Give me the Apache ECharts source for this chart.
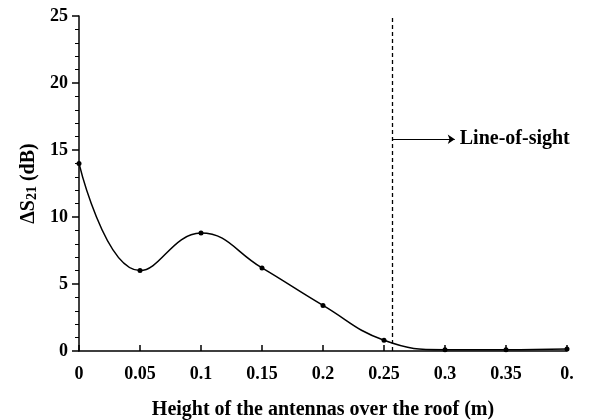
<!DOCTYPE html>
<html>
<head>
<meta charset="utf-8">
<script src="https://cdn.jsdelivr.net/npm/echarts@6/dist/echarts.min.js"></script>
<style>
html, body { margin: 0; padding: 0; background: #fff; }
#chart { width: 601px; height: 420px; }
</style>
</head>
<body>
<div id="chart"></div>
<script>
// measured heights (m) and insertion-loss change (dB)
var heights = [0, 0.05, 0.1, 0.15, 0.2, 0.25, 0.3, 0.35, 0.4];
var deltaS21 = [14.0, 6.0, 8.8, 6.2, 3.4, 0.8, 0.1, 0.1, 0.15];
var xTickLabels = ['0', '0.05', '0.1', '0.15', '0.2', '0.25', '0.3', '0.35', '0.'];
var losHeight = 0.257;
var losArrow = [[0.257, 15.8], [0.308, 15.8]];

var font = 'Liberation Serif';
var chart = echarts.init(document.getElementById('chart'));

var points = [];
for (var i = 0; i < heights.length; i++) points.push([heights[i], deltaS21[i]]);

chart.setOption({
	animation: false,
	grid: { left: 79, right: 34, top: 16, bottom: 69, outerBoundsMode: 'none' },
	xAxis: {
		type: 'value', min: 0, max: 0.4, interval: 0.05,
		name: 'Height of the antennas over the roof (m)',
		nameLocation: 'middle', nameGap: 49,
		nameTextStyle: { fontFamily: font, fontWeight: 'bold', fontSize: 20, color: '#000' },
		axisLine: { lineStyle: { color: '#000', width: 1.5 } },
		axisTick: { inside: true, length: 6, lineStyle: { color: '#000', width: 1.5 } },
		axisLabel: {
			fontFamily: font, fontWeight: 'bold', fontSize: 18, color: '#000', margin: 14,
			formatter: function (v) {
				var k = Math.round(v / 0.05);
				return xTickLabels[k] !== undefined ? xTickLabels[k] : '';
			}
		},
		splitLine: { show: false }
	},
	yAxis: [{
		type: 'value', min: 0, max: 25, interval: 5,
		name: '{t|ΔS}{s|21}{t| (dB)}',
		nameLocation: 'middle', nameGap: 37, nameRotate: 90,
		nameTextStyle: {
			rich: {
				t: { fontFamily: font, fontWeight: 'bold', fontSize: 20, color: '#000' },
				s: { fontFamily: font, fontWeight: 'bold', fontSize: 14, color: '#000', verticalAlign: 'bottom', padding: [7, 0, 0, 0] }
			}
		},
		axisLine: { show: true, lineStyle: { color: '#000', width: 1.5 } },
		axisTick: { show: true, length: 7, lineStyle: { color: '#000', width: 1.5 } },
		axisLabel: { fontFamily: font, fontWeight: 'bold', fontSize: 18, color: '#000', margin: 11 },
		splitLine: { show: false }
	}, {
		type: 'value', min: 0, max: 25, interval: 5, position: 'left', offset: 0,
		axisLine: { show: false },
		axisTick: { show: false },
		minorTick: { show: true, splitNumber: 5, length: 4, lineStyle: { color: '#000', width: 1 } },
		axisLabel: { show: false },
		splitLine: { show: false }
	}],
	series: [{
		type: 'line',
		data: points,
		smooth: 0.45,
		symbol: 'circle', symbolSize: 5,
		itemStyle: { color: '#000' },
		lineStyle: { color: '#000', width: 1.5 },
		markLine: {
			silent: true, symbol: 'none',
			lineStyle: { color: '#000', type: [4, 3], width: 1.3 },
			label: { show: false },
			data: [
				[{ coord: [losHeight, 0] }, { coord: [losHeight, 25] }],
				[{ coord: losArrow[0], symbol: 'none' }, {
					coord: losArrow[1], symbol: 'arrow', symbolSize: 7,
					lineStyle: { type: 'solid', width: 1, color: '#000' },
					label: {
						show: true, position: 'end', distance: 5, formatter: 'Line-of-sight',
						fontFamily: font, fontWeight: 'bold', fontSize: 20, color: '#000'
					}
				}]
			]
		}
	}]
});
</script>
</body>
</html>
